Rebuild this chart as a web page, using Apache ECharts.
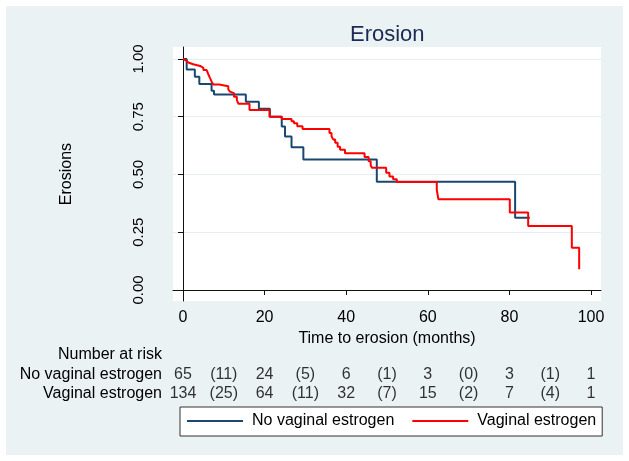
<!DOCTYPE html>
<html><head><meta charset="utf-8">
<script src="https://cdn.jsdelivr.net/npm/echarts@6/dist/echarts.min.js"></script>
<style>html,body{margin:0;padding:0;background:#fff}#c{width:629px;height:461px}</style>
</head><body><div id="c"></div>
<script>
const xTicks = [0, 20, 40, 60, 80, 100];
const yTicks = [0, 0.25, 0.5, 0.75, 1];

const noVagTimes = [0, 0.9, 2.9, 4.0, 7.0, 7.6, 15.4, 18.6, 21.3, 24.2, 25.0, 26.6, 29.5, 47.5, 81.4, 85.0];
const noVagSurv  = [1, 0.954, 0.923, 0.892, 0.862, 0.846, 0.815, 0.785, 0.750, 0.708, 0.664, 0.618, 0.565, 0.469, 0.313, 0.313];

const vagTimes = [0, 0.3, 0.8, 1.3, 2.5, 4.2, 5.0, 5.8, 6.2, 6.6, 7.0, 7.4, 8.9, 11.1, 11.5, 11.9, 12.5, 13.2, 13.6, 16.3, 21.2, 24.2, 26.6, 27.2, 28.0, 29.3, 35.9, 36.4, 36.8, 37.3, 37.9, 38.5, 39.7, 44.5, 45.5, 46.0, 46.3, 49.8, 50.6, 51.5, 52.4, 62.2, 62.6, 80.1, 84.6, 95.3, 97.1];
const vagSurv  = [1, 0.993, 0.985, 0.977, 0.970, 0.962, 0.952, 0.945, 0.934, 0.918, 0.903, 0.890, 0.882, 0.868, 0.859, 0.852, 0.837, 0.822, 0.806, 0.779, 0.750, 0.740, 0.731, 0.722, 0.709, 0.697, 0.680, 0.666, 0.652, 0.637, 0.620, 0.607, 0.592, 0.576, 0.557, 0.540, 0.529, 0.508, 0.491, 0.479, 0.467, 0.433, 0.393, 0.335, 0.277, 0.183, 0.090];

const riskRows  = ['Number at risk', 'No vaginal estrogen', 'Vaginal estrogen'];
const riskTimes = [0, 10, 20, 30, 40, 50, 60, 70, 80, 90, 100];
const riskNoVag = ['65', '(11)', '24', '(5)', '6', '(1)', '3', '(0)', '3', '(1)', '1'];
const riskVag   = ['134', '(25)', '64', '(11)', '32', '(7)', '15', '(2)', '7', '(4)', '1'];

const FONT = "'Liberation Sans', Arial, sans-serif";
const BLUE = '#1a476f', RED = '#ff0000';
const X_MIN = -2.451, X_MAX = 102.45, Y_MIN = -0.0476, Y_MAX = 1.0519;

const zip = (a, b) => a.map((v, i) => [v, b[i]]);

const chart = echarts.init(document.getElementById('c'), null, {renderer: 'canvas'});
chart.setOption({
  animation: false,
  backgroundColor: '#ffffff',
  graphic: [{type: 'rect', silent: true, z: -10, shape: {x: 6, y: 6, width: 617, height: 449}, style: {fill: '#eaf2f3'}}],
  title: {text: 'Erosion', left: 345, top: 19, textStyle: {fontFamily: FONT, fontSize: 22, fontWeight: 'normal', color: '#1c2a55'}},
  legend: {
    data: ['No vaginal estrogen', 'Vaginal estrogen'],
    icon: 'rect', left: 180, top: 407, padding: [6, 6, 7, 7], itemGap: 18, itemWidth: 56, itemHeight: 2,
    backgroundColor: '#fff', borderColor: '#333', borderWidth: 1, borderRadius: 0,
    textStyle: {fontFamily: FONT, fontSize: 16, color: '#000', padding: [0, 0, 0, 4]}
  },
  grid: [
    {left: 173, top: 47, width: 428, height: 254, show: true, backgroundColor: '#fff', borderWidth: 0},
    {left: 173, top: 345, width: 428, height: 58.5, show: false}
  ],
  xAxis: [
    {type: 'value', gridIndex: 0, min: X_MIN, max: X_MAX,
     axisLine: {show: true, lineStyle: {color: '#111', width: 1}},
     axisTick: {show: true, length: 5, customValues: xTicks, lineStyle: {color: '#111'}},
     axisLabel: {customValues: xTicks, fontFamily: FONT, fontSize: 16, color: '#000', margin: 9},
     splitLine: {show: false},
     name: 'Time to erosion (months)', nameLocation: 'middle', nameGap: 24,
     nameTextStyle: {fontFamily: FONT, fontSize: 16, color: '#000'}},
    {type: 'value', gridIndex: 1, min: X_MIN, max: X_MAX, show: false}
  ],
  yAxis: [
    {type: 'value', gridIndex: 0, min: Y_MIN, max: Y_MAX,
     axisLine: {show: true, lineStyle: {color: '#111', width: 1}},
     axisTick: {show: true, length: 5, customValues: yTicks, lineStyle: {color: '#111'}},
     axisLabel: {customValues: yTicks, rotate: 90, formatter: v => v.toFixed(2), fontFamily: FONT, fontSize: 15, color: '#000', margin: 27},
     splitLine: {show: true, lineStyle: {color: '#e6eef0', width: 1}},
     name: 'Erosions', nameLocation: 'middle', nameRotate: 90, nameGap: 98,
     nameTextStyle: {fontFamily: FONT, fontSize: 16, color: '#000'}},
    {type: 'category', gridIndex: 1, data: riskRows, inverse: true,
     axisLine: {show: false}, axisTick: {show: false}, splitLine: {show: false},
     axisLabel: {interval: 0, fontFamily: FONT, fontSize: 16, color: '#000', margin: 11}}
  ],
  series: [
    {name: 'No vaginal estrogen', type: 'line', step: 'end', xAxisIndex: 0, yAxisIndex: 0, symbol: 'none',
     lineStyle: {color: BLUE, width: 2}, itemStyle: {color: BLUE}, data: zip(noVagTimes, noVagSurv)},
    {name: 'Vaginal estrogen', type: 'line', step: 'end', xAxisIndex: 0, yAxisIndex: 0, symbol: 'none',
     lineStyle: {color: RED, width: 2}, itemStyle: {color: RED}, data: zip(vagTimes, vagSurv)},
    {name: 'riskNoVag', type: 'scatter', xAxisIndex: 1, yAxisIndex: 1, symbolSize: 1, itemStyle: {color: 'rgba(0,0,0,0)'},
     label: {show: true, position: 'inside', formatter: p => p.value[2], fontFamily: FONT, fontSize: 16, color: '#000'},
     data: riskTimes.map((t, i) => [t, riskRows[1], riskNoVag[i]])},
    {name: 'riskVag', type: 'scatter', xAxisIndex: 1, yAxisIndex: 1, symbolSize: 1, itemStyle: {color: 'rgba(0,0,0,0)'},
     label: {show: true, position: 'inside', formatter: p => p.value[2], fontFamily: FONT, fontSize: 16, color: '#000'},
     data: riskTimes.map((t, i) => [t, riskRows[2], riskVag[i]])}
  ]
});
</script></body></html>
